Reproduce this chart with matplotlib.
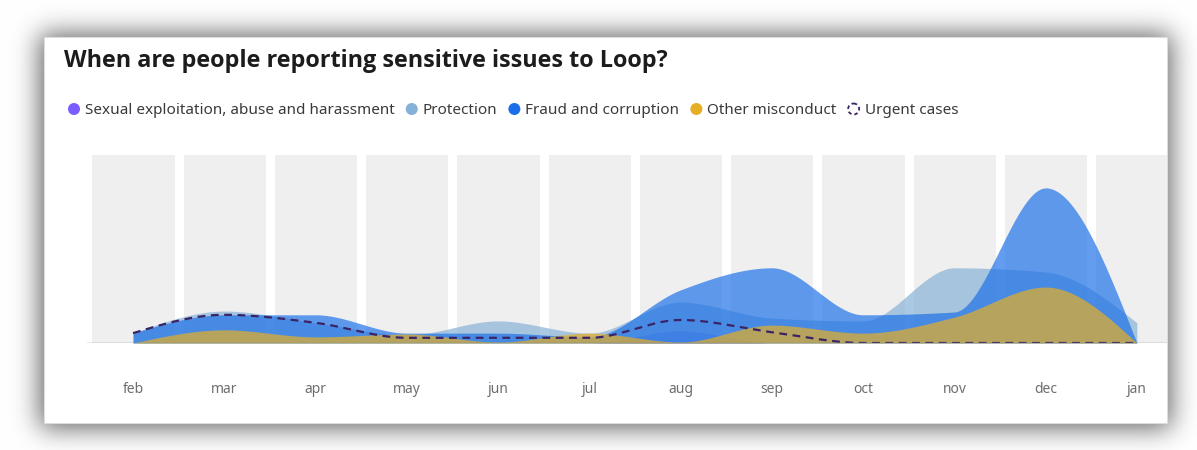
import numpy as np
import matplotlib.pyplot as plt
from matplotlib.patches import Circle, Rectangle

# monthly reports per category
months = ['feb', 'mar', 'apr', 'may', 'jun', 'jul', 'aug', 'sep', 'oct', 'nov', 'dec', 'jan']
sexual_exploitation = [0, 0, 0, 0, 0, 0, 2.6, 0, 0, 0, 0, 0]
protection = [2.1, 6.8, 4.3, 1.7, 4.7, 2.1, 8.7, 5.3, 4.7, 16.0, 15.1, 4.3]
fraud = [2.1, 6.0, 6.0, 2.1, 2.1, 1.3, 11.3, 16.0, 6.0, 6.6, 33.0, 0.0]
other_misconduct = [0.0, 2.8, 1.3, 1.9, 0.2, 2.1, 0.2, 3.8, 2.1, 5.5, 11.9, 0.0]
urgent = [2.1, 6.0, 4.3, 1.1, 1.1, 1.1, 4.9, 2.3, 0, 0, 0, 0]

series_names = ['Sexual exploitation, abuse and harassment', 'Protection',
                'Fraud and corruption', 'Other misconduct']
series_colors = ['#7b5cff', '#85b0d7', '#1a6fe8', '#e6ae24']

W, H = 1197, 450


def monotone(y, n=60):
    # monotone cubic interpolation (same idea as d3 curveMonotoneX)
    y = np.asarray(y, dtype=float)
    x = np.arange(len(y), dtype=float)
    s = np.diff(y)
    m = np.zeros(len(y))
    for i in range(1, len(y) - 1):
        s0, s1 = s[i - 1], s[i]
        p = (s0 + s1) / 2
        m[i] = (np.sign(s0) + np.sign(s1)) * min(abs(s0), abs(s1), 0.5 * abs(p))
    m[0] = (3 * s[0] - m[1]) / 2
    m[-1] = (3 * s[-1] - m[-2]) / 2
    xs, ys = [], []
    for i in range(len(y) - 1):
        t = np.linspace(0, 1, n, endpoint=(i == len(y) - 2))
        h00 = 2 * t**3 - 3 * t**2 + 1
        h10 = t**3 - 2 * t**2 + t
        h01 = -2 * t**3 + 3 * t**2
        h11 = t**3 - t**2
        xs.append(x[i] + t)
        ys.append(h00 * y[i] + h10 * m[i] + h01 * y[i + 1] + h11 * m[i + 1])
    return np.concatenate(xs), np.concatenate(ys)


def edge_profile(size, lo, hi, sigma):
    step = np.zeros(size)
    step[lo:hi] = 1.0
    k = np.arange(-4 * sigma, 4 * sigma + 1)
    kern = np.exp(-0.5 * (k / sigma) ** 2)
    kern /= kern.sum()
    return np.convolve(step, kern, mode='same')


fig = plt.figure(figsize=(W / 100, H / 100), dpi=100)
fig.patch.set_facecolor('white')

# background layer in pixel coordinates: card, drop shadow, title, legend
bg = fig.add_axes([0, 0, 1, 1])
bg.set_xlim(0, W)
bg.set_ylim(H, 0)
bg.axis('off')

shade = np.outer(edge_profile(H, 34, 428, 13), edge_profile(W, 40, 1171, 13))
gray = 1 - 0.62 * shade
bg.imshow(np.dstack([gray, gray, gray]), extent=(0, W, H, 0), interpolation='bilinear', zorder=0)
bg.add_patch(Rectangle((44, 37), 1123, 386, facecolor='white', edgecolor='#dddddd', lw=0.8, zorder=1))

bg.text(64, 61, 'When are people reporting sensitive issues to Loop?', fontsize=16.8,
        fontweight='bold', family='Open Sans', color='#1c1c1c', va='center', ha='left', zorder=3)

renderer = fig.canvas.get_renderer()
x = 74
legend_items = list(zip(series_names, series_colors)) + [('Urgent cases', None)]
for name, col in legend_items:
    if col is None:
        bg.add_patch(Circle((x, 109), 5.5, facecolor='white', edgecolor='#3b2466',
                            lw=1.3, ls=(0, (2, 1.6)), zorder=3))
    else:
        bg.add_patch(Circle((x, 109), 6, facecolor=col, edgecolor='none', zorder=3))
    t = bg.text(x + 11, 110.5, name, fontsize=11.0, family='Noto Sans', color='#3a3a3a',
                va='center', ha='left', zorder=3)
    bb = t.get_window_extent(renderer)
    x = bb.x1 + 17

# chart area
ax = fig.add_axes([87.4 / W, 107 / H, (1167 - 87.4) / W, 188 / H])
ax.set_facecolor('none')
idx = np.arange(len(months))
for i in idx:
    ax.axvspan(i - 0.445, i + 0.455, color='#efefef', lw=0, zorder=0)

for vals, col in zip([sexual_exploitation, protection, fraud], series_colors[:3]):
    xs, ys = monotone(vals)
    ax.fill_between(xs, 0, ys, color=col, alpha=0.68, lw=0, zorder=2)
xs, ys = monotone(other_misconduct)
ax.fill_between(xs, 0, ys, color=series_colors[3], alpha=0.7, lw=0, zorder=3)

xs, ys = monotone(urgent)
ax.plot(xs, np.clip(ys, 0, None), color='#3b2466', lw=1.6, ls=(0, (3.5, 2.5)), zorder=4)

ax.axhline(0, color='#8a8a8a', lw=1, zorder=5)
ax.set_xlim(-0.5, 11.33)
ax.set_ylim(0, 40)
ax.set_xticks(idx)
ax.set_xticklabels(months, family='Noto Sans', fontsize=10, color='#6e6e6e')
ax.tick_params(axis='x', length=0, pad=28)
ax.set_yticks([])
for sp in ax.spines.values():
    sp.set_visible(False)

fig.savefig('out.png', dpi=100)
